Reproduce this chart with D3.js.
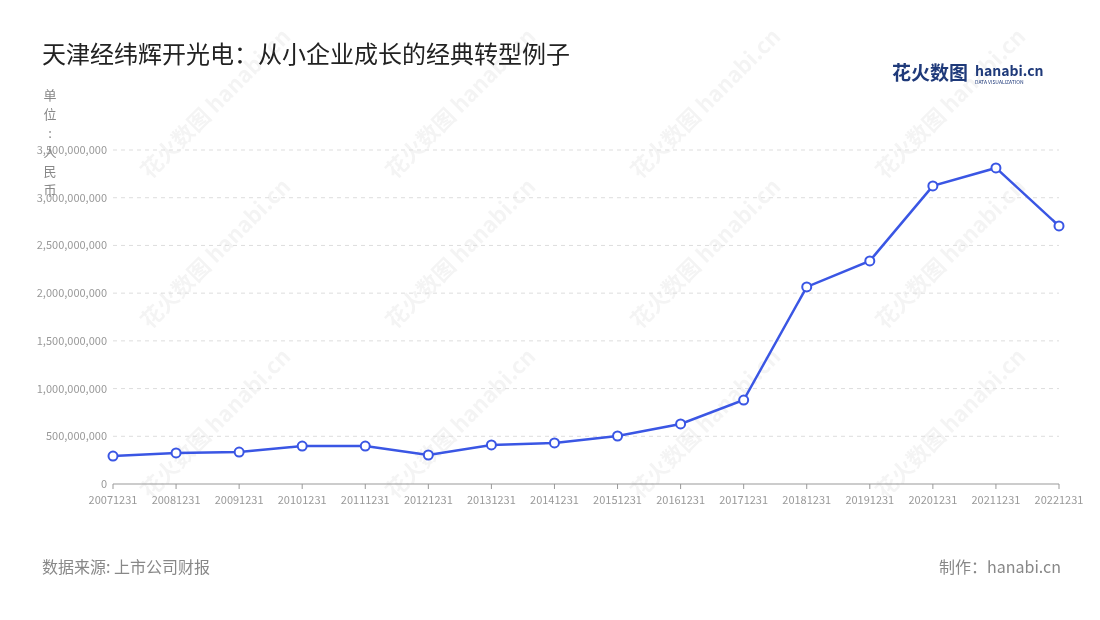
<!DOCTYPE html><html><head><meta charset="utf-8"><script src="https://d3js.org/d3.v7.min.js"></script>
<style>body{margin:0;background:#fff;font-family:"Noto Sans CJK SC","Noto Sans",sans-serif}</style></head><body><svg id="c" width="1100" height="620"></svg>
<script>
const categories=["20071231","20081231","20091231","20101231","20111231","20121231","20131231","20141231","20151231","20161231","20171231","20181231","20191231","20201231","20211231","20221231"];
const values=[293e6,325e6,335e6,398e6,398e6,304e6,409e6,430e6,503e6,629e6,880e6,2065e6,2338e6,3124e6,3312e6,2704e6];
const yTicks=[0,5e8,1e9,1.5e9,2e9,2.5e9,3e9,3.5e9];
const svg=d3.select("#c");
const L=113,R=1059,T=150,B=484;
const x=d3.scalePoint().domain(categories).range([L,R]);
const y=d3.scaleLinear().domain([0,3.5e9]).range([B,T]);
const wm=svg.append("g").attr("fill","#000").attr("opacity",0.045);
[[150,180],[395,180],[640,180],[885,180],[150,330],[395,330],[640,330],[885,330],[150,500],[395,500],[640,500],[885,500]].forEach(([a,b])=>{
 wm.append("text").attr("transform",`translate(${a},${b}) rotate(-45)`).attr("font-size",22).attr("font-weight","bold").text("花火数图 hanabi.cn");});
svg.append("g").selectAll("line").data(yTicks.slice(1)).join("line").attr("x1",L).attr("x2",R).attr("y1",y).attr("y2",y).attr("stroke","#ddd").attr("stroke-dasharray","4,4");
svg.append("line").attr("x1",L).attr("x2",R).attr("y1",B).attr("y2",B).attr("stroke","#999");
svg.append("g").selectAll("text").data(yTicks).join("text").attr("x",L-6).attr("y",d=>y(d)+4).attr("text-anchor","end").attr("font-size",11).attr("fill","#999").text(d=>d3.format(",")(d));
svg.append("g").selectAll("line").data(categories).join("line").attr("x1",x).attr("x2",x).attr("y1",B).attr("y2",B+5).attr("stroke","#999");
svg.append("g").selectAll("text").data(categories).join("text").attr("x",x).attr("y",B+20).attr("text-anchor","middle").attr("font-size",11).attr("fill","#999").text(d=>d);
svg.append("path").datum(values).attr("d",d3.line().x((d,i)=>x(categories[i])).y(d=>y(d))).attr("fill","none").attr("stroke","#3a56e4").attr("stroke-width",2.5);
svg.append("g").selectAll("circle").data(values).join("circle").attr("cx",(d,i)=>x(categories[i])).attr("cy",d=>y(d)).attr("r",4.5).attr("fill","#fff").attr("stroke","#3a56e4").attr("stroke-width",2);
svg.append("text").attr("x",42).attr("y",63).attr("font-size",24).attr("fill","#222").text("天津经纬辉开光电：从小企业成长的经典转型例子");
"单位：人民币".split("").forEach((c,i)=>svg.append("text").attr("x",50).attr("y",100+i*19).attr("text-anchor","middle").attr("font-size",13).attr("fill","#888").text(c==="："?":":c));
svg.append("text").attr("x",42).attr("y",573).attr("font-size",16).attr("fill","#888").text("数据来源: 上市公司财报");
svg.append("text").attr("x",1061).attr("y",573).attr("text-anchor","end").attr("font-size",16).attr("fill","#888").text("制作：hanabi.cn");
svg.append("text").attr("x",892).attr("y",80).attr("font-size",19).attr("font-weight","bold").attr("fill","#1f3a7a").text("花火数图");
svg.append("text").attr("x",975).attr("y",76).attr("font-size",14).attr("font-weight","bold").attr("fill","#1f3a7a").text("hanabi.cn");
svg.append("text").attr("x",975).attr("y",84).attr("font-size",5).attr("fill","#1f3a7a").text("DATA VISUALIZATION");
</script></body></html>
